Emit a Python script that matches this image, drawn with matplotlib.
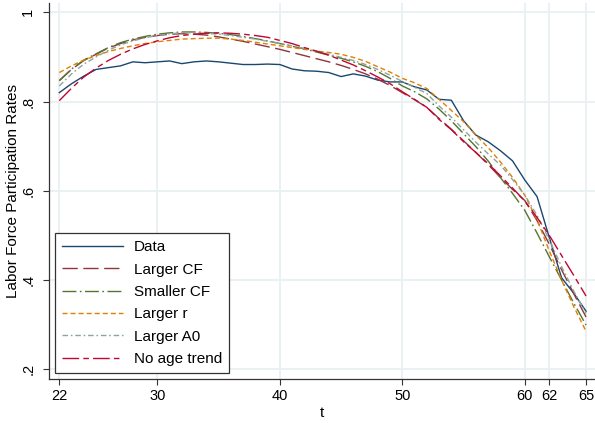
import matplotlib
matplotlib.use('Agg')
import matplotlib.pyplot as plt
import numpy as np

plt.rcParams['font.family'] = ['Liberation Sans', 'DejaVu Sans']
plt.rcParams['lines.scale_dashes'] = False

ages = list(range(22, 66))

data = [0.820, 0.840, 0.857, 0.872, 0.876, 0.880, 0.889, 0.887, 0.889, 0.891,
        0.885, 0.889, 0.891, 0.889, 0.886, 0.883, 0.883, 0.884, 0.883, 0.873,
        0.869, 0.868, 0.865, 0.856, 0.862, 0.857, 0.848, 0.844, 0.844, 0.833,
        0.826, 0.805, 0.803, 0.757, 0.725, 0.710, 0.690, 0.667, 0.624, 0.587,
        0.495, 0.405, 0.370, 0.330]

larger_cf = [0.847, 0.872, 0.892, 0.906, 0.920, 0.930, 0.938, 0.944, 0.948, 0.951,
             0.952, 0.951, 0.949, 0.945, 0.940, 0.935, 0.929, 0.923, 0.917, 0.910,
             0.903, 0.896, 0.889, 0.881, 0.872, 0.862, 0.850, 0.836, 0.820, 0.804,
             0.787, 0.762, 0.738, 0.712, 0.686, 0.659, 0.630, 0.603, 0.578, 0.533,
             0.480, 0.423, 0.369, 0.317]

smaller_cf = [0.847, 0.873, 0.893, 0.907, 0.921, 0.932, 0.940, 0.946, 0.951, 0.954,
              0.956, 0.956, 0.955, 0.953, 0.950, 0.946, 0.941, 0.936, 0.930, 0.924,
              0.918, 0.911, 0.904, 0.897, 0.889, 0.879, 0.867, 0.852, 0.835, 0.822,
              0.806, 0.783, 0.757, 0.728, 0.699, 0.667, 0.630, 0.594, 0.556, 0.505,
              0.452, 0.400, 0.348, 0.299]

larger_r = [0.865, 0.880, 0.893, 0.903, 0.912, 0.919, 0.925, 0.930, 0.934, 0.937,
            0.940, 0.941, 0.942, 0.942, 0.940, 0.937, 0.933, 0.929, 0.925, 0.921,
            0.917, 0.913, 0.910, 0.906, 0.899, 0.890, 0.878, 0.866, 0.852, 0.842,
            0.829, 0.805, 0.780, 0.755, 0.725, 0.697, 0.665, 0.630, 0.590, 0.535,
            0.465, 0.400, 0.340, 0.285]

larger_a0 = [0.835, 0.862, 0.884, 0.900, 0.915, 0.927, 0.936, 0.943, 0.948, 0.952,
             0.954, 0.954, 0.953, 0.951, 0.948, 0.944, 0.940, 0.935, 0.930, 0.925,
             0.919, 0.913, 0.906, 0.899, 0.892, 0.883, 0.872, 0.859, 0.845, 0.832,
             0.818, 0.790, 0.765, 0.737, 0.709, 0.683, 0.658, 0.625, 0.590, 0.545,
             0.490, 0.430, 0.375, 0.325]

no_age_trend = [0.802, 0.830, 0.855, 0.875, 0.892, 0.906, 0.918, 0.928, 0.936, 0.943,
                0.948, 0.951, 0.953, 0.954, 0.953, 0.951, 0.948, 0.944, 0.937, 0.930,
                0.921, 0.913, 0.904, 0.893, 0.882, 0.869, 0.855, 0.840, 0.822, 0.805,
                0.787, 0.760, 0.737, 0.710, 0.686, 0.661, 0.634, 0.606, 0.577, 0.540,
                0.500, 0.455, 0.410, 0.364]

series = [
    ('Data', data, '#1a476f', 'solid'),
    ('Larger CF', larger_cf, '#90353b', (0, (11, 4))),
    ('Smaller CF', smaller_cf, '#55752f', (0, (10, 2.5, 1.2, 2.5))),
    ('Larger r', larger_r, '#e37e00', (0, (3.6, 2.2))),
    ('Larger A0', larger_a0, '#8aa59c', (0, (4, 2, 1.2, 2))),
    ('No age trend', no_age_trend, '#c10534', (0, (12, 3, 4, 3))),
]

xticks = [22, 30, 40, 50, 60, 62, 65]
yticks = [0.2, 0.4, 0.6, 0.8, 1.0]
ytick_labels = ['.2', '.4', '.6', '.8', '1']

fig = plt.figure(figsize=(5.95, 4.23), dpi=100)
ax = fig.add_axes([0.0824, 0.104, 0.9176, 0.889])

for label, vals, color, ls in series:
    ax.plot(ages, vals, color=color, linestyle=ls, linewidth=1.0, label=label)

ax.set_xlim(21.16, 65.73)
ax.set_ylim(0.178, 1.021)
ax.set_xticks(xticks)
ax.set_yticks(yticks)
ax.set_yticklabels(ytick_labels, rotation=90, va='center')
ax.grid(True, color='#e8f0f2', linewidth=1.3)
ax.set_axisbelow(True)

for side in ['top', 'right']:
    ax.spines[side].set_visible(False)
for side in ['left', 'bottom']:
    ax.spines[side].set_color('#333333')
    ax.spines[side].set_linewidth(0.9)

ax.tick_params(direction='out', length=4, width=0.8, color='#333333',
               labelsize=10.5, labelcolor='black')
ax.tick_params(axis='y', pad=6)

ax.set_xlabel('t', fontsize=11, labelpad=2)
ax.set_ylabel('Labor Force Participation Rates', fontsize=11, labelpad=1)

leg = ax.legend(loc='lower left', bbox_to_anchor=(0.011, 0.016), fontsize=11,
                handlelength=4.0, handletextpad=0.7, labelspacing=0.55,
                borderpad=0.45, fancybox=False, framealpha=1, borderaxespad=0)
leg.get_frame().set_edgecolor('#333333')
leg.get_frame().set_linewidth(0.9)

plt.savefig('out.png', dpi=100)
plt.close()
